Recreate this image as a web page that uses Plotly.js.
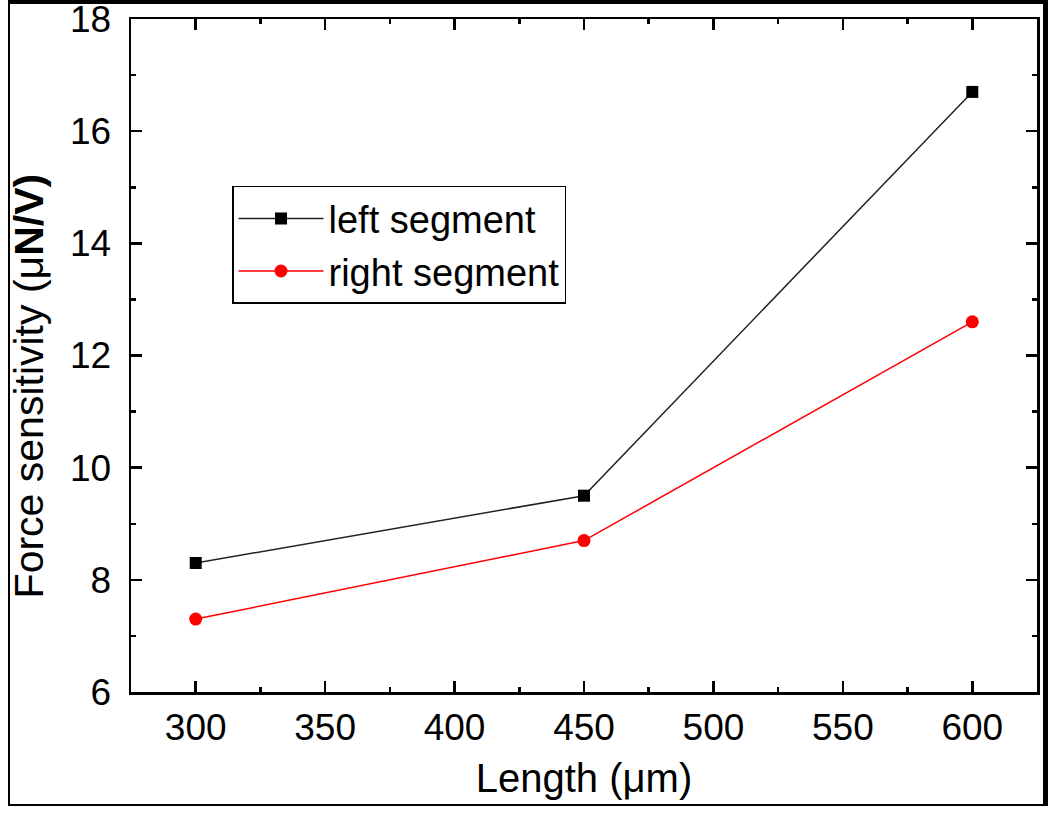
<!DOCTYPE html>
<html>
<head>
<meta charset="utf-8">
<script src="https://cdn.plot.ly/plotly-3.0.1.min.js"></script>
<style>
  body { margin: 0; background: #fff; }
  #chart { width: 1050px; height: 814px; }
  #frame {
    position: absolute; left: 8px; top: 0px; width: 1033px; height: 800px;
    border-top: 4px solid #000; border-left: 2px solid #000;
    border-right: 5px solid #000; border-bottom: 2px solid #000;
    pointer-events: none;
  }
</style>
</head>
<body>
<div id="chart"></div>
<div id="frame"></div>
<script>
// lengths in micrometres
let lengths = [300, 450, 600];
let leftSeg = [8.3, 9.5, 16.7];
let rightSeg = [7.3, 8.7, 12.6];
let xTicks = [300, 350, 400, 450, 500, 550, 600];
let yTicks = [6, 8, 10, 12, 14, 16, 18];

let font = 'Liberation Sans, Arial, sans-serif';

let data = [
  {
    x: lengths, y: leftSeg, name: 'left segment',
    mode: 'lines+markers', type: 'scatter',
    line: {color: '#222', width: 1.5},
    marker: {symbol: 'square', size: 12, color: '#000'}
  },
  {
    x: lengths, y: rightSeg, name: 'right segment',
    mode: 'lines+markers', type: 'scatter',
    line: {color: '#ff0000', width: 1.5},
    marker: {symbol: 'circle', size: 13, color: '#ff0000'}
  }
];

let axisCommon = {
  showline: true, linecolor: '#000', linewidth: 2.5,
  mirror: 'ticks', ticks: 'inside', ticklen: 11, tickwidth: 2.5, tickcolor: '#000',
  showgrid: false, zeroline: false, ticklabeloverflow: 'allow',
  tickfont: {family: font, size: 37, color: '#000'}
};

let layout = {
  width: 1050, height: 814,
  margin: {l: 131, r: 13, t: 19, b: 122},
  paper_bgcolor: '#fff', plot_bgcolor: '#fff',
  showlegend: true,
  legend: {
    x: 0.1115, y: 0.752, xanchor: 'left', yanchor: 'top',
    bgcolor: '#fff', bordercolor: '#000', borderwidth: 1.5,
    font: {family: font, size: 38, color: '#000'},
    itemwidth: 85, tracegroupgap: 0
  },
  xaxis: Object.assign({}, axisCommon, {
    range: [275, 625], tickvals: xTicks, ticklabelstandoff: 1,
    minor: {dtick: 25, ticks: 'inside', ticklen: 5, tickwidth: 2.5, tickcolor: '#000'},
    title: {text: 'Length (μm)', font: {family: font, size: 40, color: '#000'}, standoff: 17}
  }),
  yaxis: Object.assign({}, axisCommon, {
    range: [6, 18], tickvals: yTicks, ticklabelstandoff: 10,
    minor: {dtick: 1, ticks: 'inside', ticklen: 5, tickwidth: 2.5, tickcolor: '#000'}
  }),
  annotations: [{
    xref: 'paper', yref: 'paper', x: -0.113, y: 0.455,
    xanchor: 'center', yanchor: 'middle', textangle: -90, showarrow: false,
    text: 'Force sensitivity (μ<b>N/V)</b>',
    font: {family: font, size: 41, color: '#000'}
  }]
};

Plotly.newPlot('chart', data, layout, {displayModeBar: false, staticPlot: true});
</script>
</body>
</html>
